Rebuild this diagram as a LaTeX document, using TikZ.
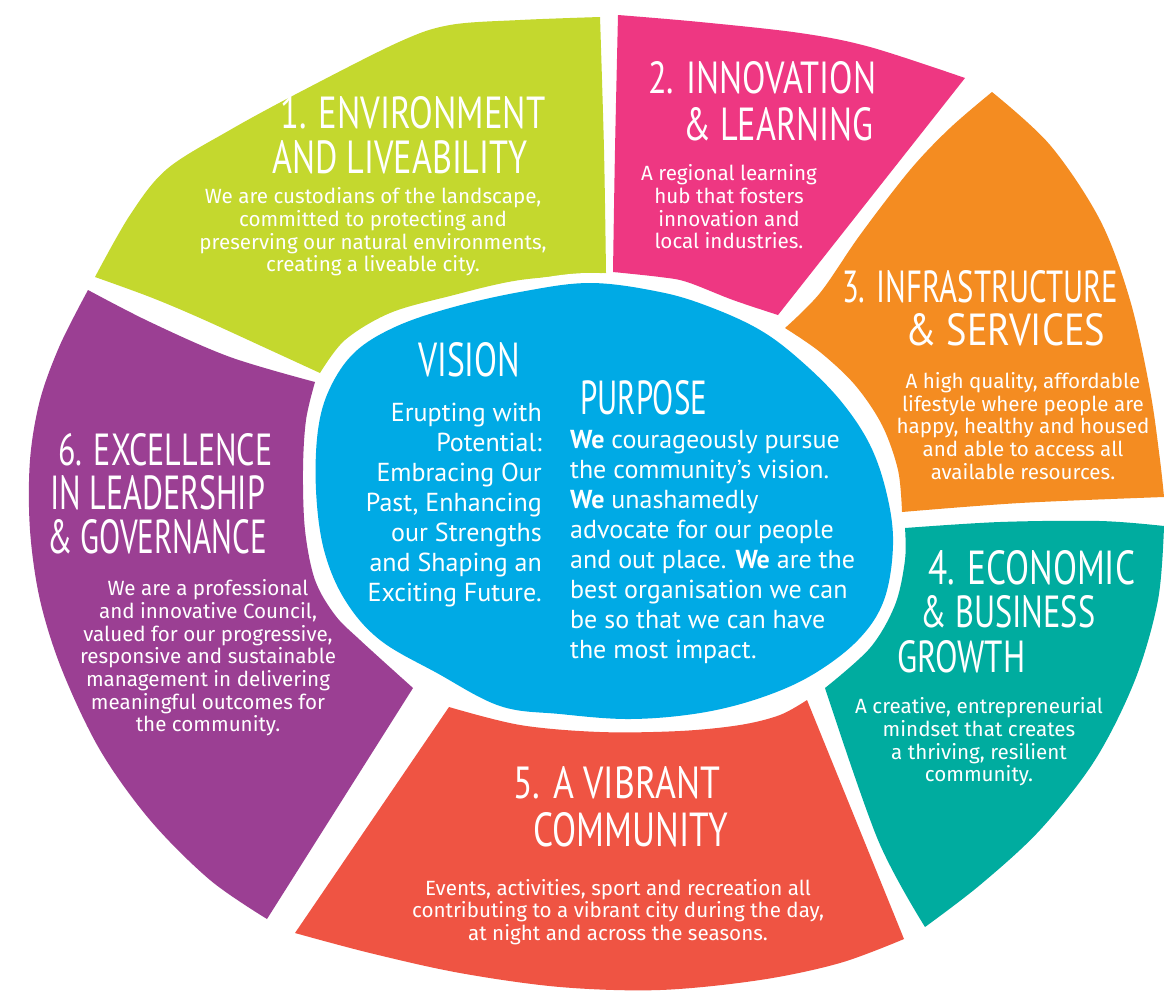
\documentclass[tikz,border=0pt]{standalone}
\usepackage{fontspec}
\usepackage{graphicx}
\setmainfont{PT Sans}
\newfontfamily\handfont{PT Sans}
\newfontfamily\blurbfont{Fira Sans}

\definecolor{envgreen}{HTML}{C4D82E}
\definecolor{innopink}{HTML}{EE3782}
\definecolor{infraorange}{HTML}{F48C21}
\definecolor{econteal}{HTML}{00AC9F}
\definecolor{commred}{HTML}{EF5443}
\definecolor{leadpurple}{HTML}{9B3F93}
\definecolor{coreblue}{HTML}{00AAE5}

% hand-lettered heading squeezed to a given width and cap height
\newcommand{\handline}[3]{\resizebox{#1pt}{#2pt}{\handfont #3}}

\tikzset{
  body/.style={text=white, font=\blurbfont\fontsize{20.6}{22.7}\selectfont, align=center, inner sep=0pt},
  core/.style={text=white, font=\fontsize{26}{30}\selectfont, inner sep=0pt},
  hand/.style={text=white, inner sep=0pt, anchor=west},
  sm/.style={smooth, tension=.55}
}

\begin{document}
\begin{tikzpicture}[x=1pt, y=-1pt]
\fill[white] (0,0) rectangle (1164,994);
\useasboundingbox (0,0) rectangle (1164,994);

% 1. Environment and liveability
\fill[envgreen]
  plot[sm] coordinates {(95,277) (130,215) (167,169) (230,130) (300,92) (399,42) (450,25) (520,20) (600,17)}
  -- plot[sm] coordinates {(600,17) (604,150) (606,273)}
  -- plot[sm] coordinates {(606,273) (520,280) (450,296) (390,313) (345,340) (320,373)}
  -- plot[sm] coordinates {(320,373) (270,350) (200,318) (150,297) (95,277)} -- cycle;

% 2. Innovation and learning
\fill[innopink]
  plot[sm] coordinates {(618,15) (700,22) (800,33) (870,47) (965,78)}
  -- (778,315)
  -- plot[sm] coordinates {(778,315) (733,300) (687,282) (660,277) (613,272)}
  -- plot[sm] coordinates {(613,272) (615,150) (618,15)} -- cycle;

% 3. Infrastructure and services
\fill[infraorange]
  plot[sm] coordinates {(992,92) (1050,145) (1100,220) (1130,300) (1150,390) (1160,460) (1164,497)}
  -- plot[sm] coordinates {(1164,497) (1020,503) (902,512)}
  -- plot[sm] coordinates {(902,512) (898,470) (882,425) (855,385) (820,352) (785,328)}
  -- plot[sm] coordinates {(785,328) (820,293) (860,235) (910,170) (950,128) (992,92)} -- cycle;

% 4. Economic and business growth
\fill[econteal]
  plot[sm] coordinates {(905,528) (1000,522) (1100,521) (1164,526)}
  -- plot[sm] coordinates {(1164,526) (1158,600) (1135,680) (1095,760) (1040,830) (980,885) (925,927)}
  -- plot[sm] coordinates {(925,927) (878,840) (825,688)}
  -- plot[sm] coordinates {(825,688) (870,648) (895,605) (905,560) (905,528)} -- cycle;

% 5. A vibrant community
\fill[commred]
  plot[sm] coordinates {(449,707) (520,725) (600,732) (680,731) (740,725) (780,715) (807,700)}
  -- (904,939)
  -- plot[sm] coordinates {(904,939) (840,963) (760,980) (660,990) (560,987) (460,973) (370,953) (295,933)}
  -- cycle;

% 6. Excellence in leadership and governance
\fill[leadpurple]
  plot[sm] coordinates {(88,290) (150,322) (230,357) (315,382)}
  -- plot[sm] coordinates {(315,382) (306,420) (303,470) (305,530) (315,580) (335,615) (360,640) (413,688)}
  -- (267,919)
  -- plot[sm] coordinates {(267,919) (210,880) (150,820) (100,750) (62,670) (40,600) (30,530) (30,460) (40,400) (60,345) (88,290)}
  -- cycle;

% vision and purpose core, with a white margin around it
\fill[coreblue, preaction={draw=white, line width=20pt}]
  plot[smooth cycle, tension=.6] coordinates {(590,283) (660,292) (710,307) (760,330) (800,360) (840,400)
   (870,445) (887,495) (893,545) (884,600) (858,640) (812,675) (760,698) (700,713) (630,719)
   (560,714) (500,706) (437,673) (380,640) (345,600) (324,550) (316,490) (318,430) (330,388)
   (355,352) (395,327) (450,308) (520,292)};

% headings
\node[hand] (t1a) at (280,113) {\handline{265}{32}{1. ENVIRONMENT}};
\node[hand] (t1b) at (272,157) {\handline{255}{33}{AND LIVEABILITY}};
\node[hand] (t2a) at (648,78) {\handline{228}{32}{2. INNOVATION}};
\node[hand] (t2b) at (683,124) {\handline{190}{33}{\& LEARNING}};
\node[hand] (t3a) at (842,287) {\handline{276}{32}{3. INFRASTRUCTURE}};
\node[hand] (t3b) at (905,330) {\handline{200}{32}{\& SERVICES}};
\node[hand] (t4a) at (928,568) {\handline{207}{34}{4. ECONOMIC}};
\node[hand] (t4b) at (920,612) {\handline{175}{32}{\& BUSINESS}};
\node[hand] (t4c) at (897,657) {\handline{128}{32}{GROWTH}};
\node[hand] (t5a) at (513,783) {\handline{207}{32}{5. A VIBRANT}};
\node[hand] (t5b) at (533,830) {\handline{195}{34}{COMMUNITY}};
\node[hand] (t6a) at (58,450) {\handline{214}{32}{6. EXCELLENCE}};
\node[hand] (t6b) at (50,493) {\handline{215}{34}{IN LEADERSHIP}};
\node[hand] (t6c) at (47,537) {\handline{220}{34}{\& GOVERNANCE}};
\node[hand] (tvis) at (418,360) {\handline{102}{34}{VISION}};
\node[hand] (tpur) at (580,398) {\handline{127}{34}{PURPOSE}};

% descriptions
\node[body] (b1) at (373,232) {We are custodians of the landscape,\\committed to protecting and\\preserving our natural environments,\\creating a liveable city.};
\node[body] (b2) at (729,207) {A regional learning\\hub that fosters\\innovation and\\local industries.};
\node[body] (b3) at (1023,426) {A high quality, affordable\\lifestyle where people are\\happy, healthy and housed\\and able to access all\\available resources.};
\node[body] (b4) at (979,742) {A creative, entrepreneurial\\mindset that creates\\a thriving, resilient\\community.};
\node[body] (b5) at (618,912) {Events, activities, sport and recreation all\\contributing to a vibrant city during the day,\\at night and across the seasons.};
\node[body] (b6) at (208,658) {We are a professional\\and innovative Council,\\valued for our progressive,\\responsive and sustainable\\management in delivering\\meaningful outcomes for\\the community.};

\node[core, align=right, anchor=east] (vis) at (542,505) {Erupting with\\Potential:\\Embracing Our\\Past, Enhancing\\our Strengths\\and Shaping an\\Exciting Future.};
\node[core, align=left, anchor=west] (pur) at (570,547) {\textbf{We} courageously pursue\\the community’s vision.\\\textbf{We} unashamedly\\advocate for our people\\and out place. \textbf{We} are the\\best organisation we can\\be so that we can have\\the most impact.};
\end{tikzpicture}
\end{document}
